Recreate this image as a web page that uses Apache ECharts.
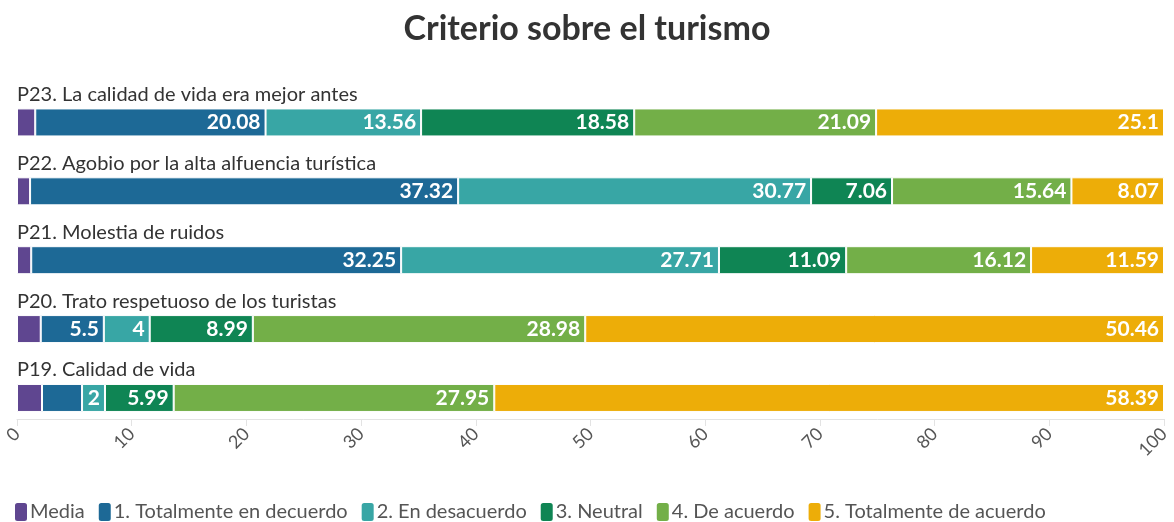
<!DOCTYPE html>
<html lang="es">
  <head>
    <meta charset="utf-8">
    <title>Criterio sobre el turismo</title>
    <script src="https://cdn.jsdelivr.net/npm/echarts@6/dist/echarts.min.js"></script>
    <style>
      body { margin: 0; background: #fff; }
      #chart { width: 1174px; height: 522px; }
    </style>
  </head>
  <body>
    <div id="chart"></div>
    <script type="text/javascript">
        // datos
        var preguntas = [
            'P23. La calidad de vida era mejor antes',
            'P22. Agobio por la alta alfuencia turística',
            'P21. Molestia de ruidos',
            'P20. Trato respetuoso de los turistas',
            'P19. Calidad de vida'
        ];
        var media = [1.59, 1.14, 1.24, 2.07, 2.18];
        var totalDesacuerdo = [20.08, 37.32, 32.25, 5.5, 3.49];
        var desacuerdo = [13.56, 30.77, 27.71, 4, 2];
        var neutral = [18.58, 7.06, 11.09, 8.99, 5.99];
        var deAcuerdo = [21.09, 15.64, 16.12, 28.98, 27.95];
        var totalAcuerdo = [25.1, 8.07, 11.59, 50.46, 58.39];

        var nombres = ['Media', '1. Totalmente en decuerdo', '2. En desacuerdo', '3. Neutral', '4. De acuerdo', '5. Totalmente de acuerdo'];
        var colores = ['#5F4690', '#1D6996', '#38A6A5', '#0F8554', '#73AF48', '#EDAD08'];
        var valores = [media, totalDesacuerdo, desacuerdo, neutral, deAcuerdo, totalAcuerdo];

        var fuente = 'Lato, "Noto Sans", sans-serif';
        var pxPorUnidad = (1174 - 17 - 10) / 100;

        // oculta la etiqueta si no cabe en el segmento
        function cabe(v) {
            var s = String(v);
            var ancho = 0;
            for (var i = 0; i < s.length; i++) ancho += s[i] === '.' ? 5 : 11;
            return ancho <= v * pxPorUnidad - 6;
        }

        var series = valores.map(function (arr, k) {
            return {
                name: nombres[k],
                type: 'bar',
                stack: 'total',
                barWidth: 28,
                itemStyle: { color: colores[k], borderColor: '#fff', borderWidth: 1 },
                label: {
                    show: k > 0,
                    position: 'insideRight',
                    color: '#fff',
                    fontFamily: fuente,
                    fontWeight: 'bold',
                    fontSize: 21,
                    distance: 5
                },
                data: arr.map(function (v) {
                    return { value: v, label: { show: k > 0 && cabe(v) } };
                })
            };
        });

        // el nombre de cada pregunta va encima de su barra (etiqueta de la serie Media)
        series[0].label = {
            show: true,
            position: [0, -14],
            align: 'left',
            verticalAlign: 'middle',
            formatter: '{b}',
            fontFamily: fuente,
            fontSize: 20,
            color: '#333'
        };
        series[0].data = media.map(function (v) { return v; });

        var myChart = echarts.init(document.getElementById('chart'));
        myChart.setOption({
            animation: false,
            title: {
                text: 'Criterio sobre el turismo',
                left: 'center',
                top: 7,
                textStyle: { fontFamily: fuente, fontSize: 34, fontWeight: 'bold', color: '#333' }
            },
            legend: {
                bottom: -6,
                left: 8,
                itemWidth: 14,
                itemHeight: 20,
                itemGap: 12,
                icon: 'roundRect',
                textStyle: { fontFamily: fuente, fontSize: 20, color: '#555', padding: [0, 0, 0, -3] },
                data: nombres
            },
            grid: { left: 17, right: 10, top: 88, bottom: 89.6 },
            xAxis: {
                type: 'value',
                min: 0,
                max: 100,
                interval: 10,
                offset: -13.4,
                splitLine: { show: false },
                axisLine: { show: true, lineStyle: { color: '#e3e3e3', width: 1 } },
                axisTick: { show: true, length: 7, lineStyle: { color: '#e3e3e3' } },
                axisLabel: { rotate: 45, margin: 12, fontFamily: fuente, fontSize: 18, color: '#555' }
            },
            yAxis: {
                type: 'category',
                inverse: true,
                data: preguntas,
                axisLine: { show: false },
                axisTick: { show: false },
                axisLabel: { show: false }
            },
            series: series
        });
    </script>
  </body>
</html>
